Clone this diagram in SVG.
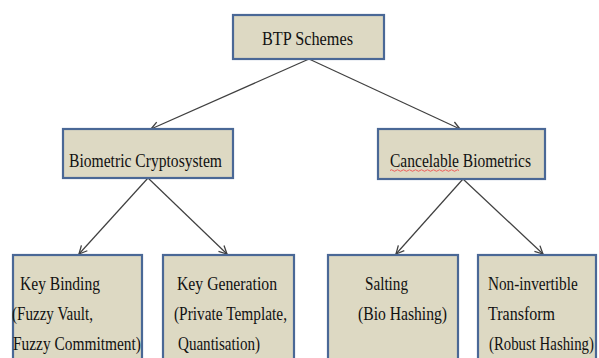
<svg xmlns="http://www.w3.org/2000/svg" width="599" height="358" viewBox="0 0 599 358">
<defs>
<style>
.box{fill:#ddd9c3;stroke:#4a6896;stroke-width:2.2}
.t{font-family:"Liberation Serif","Times New Roman",serif;font-size:19.5px;fill:#111}
.c{stroke:#404040;stroke-width:1.2;fill:none}
</style>
<marker id="ah" viewBox="0 0 10 10" refX="9" refY="5" markerWidth="10" markerHeight="10" markerUnits="userSpaceOnUse" orient="auto">
<path d="M1,1 L9,5 L1,9" fill="none" stroke="#404040" stroke-width="1.3"/>
</marker>
</defs>
<rect width="599" height="358" fill="#fff"/>
<g id="connectors">
<line class="c" x1="309" y1="59" x2="151" y2="129" marker-end="url(#ah)"/>
<line class="c" x1="309" y1="59" x2="460" y2="129" marker-end="url(#ah)"/>
<line class="c" x1="148" y1="178" x2="79" y2="254" marker-end="url(#ah)"/>
<line class="c" x1="148" y1="178" x2="227" y2="254" marker-end="url(#ah)"/>
<line class="c" x1="463" y1="179" x2="396" y2="254" marker-end="url(#ah)"/>
<line class="c" x1="463" y1="179" x2="543" y2="254" marker-end="url(#ah)"/>
</g>
<g id="btp">
<rect class="box" x="233" y="15" width="151" height="44"/>
<text class="t" x="262" y="45" textLength="91" lengthAdjust="spacingAndGlyphs">BTP Schemes</text>
</g>
<g id="biometric-cryptosystem">
<rect class="box" x="63" y="129" width="170" height="49"/>
<text class="t" x="69" y="167" textLength="153" lengthAdjust="spacingAndGlyphs">Biometric Cryptosystem</text>
</g>
<g id="cancelable-biometrics">
<rect class="box" x="378" y="129" width="167" height="50"/>
<text class="t" x="390" y="167" textLength="141" lengthAdjust="spacingAndGlyphs">Cancelable Biometrics</text>
<path d="M390,170.5 q1.5,-1.5 3,0 t3,0 t3,0 t3,0 t3,0 t3,0 t3,0 t3,0 t3,0 t3,0 t3,0 t3,0 t3,0 t3,0 t3,0 t3,0 t3,0 t3,0 t3,0 t3,0 t3,0 t3,0 t3,0" fill="none" stroke="#f05050" stroke-width="0.9"/>
</g>
<g id="key-binding">
<rect class="box" x="13" y="255" width="129" height="110"/>
<text class="t" x="20" y="290" textLength="80" lengthAdjust="spacingAndGlyphs">Key Binding</text>
<text class="t" x="12" y="320" textLength="81" lengthAdjust="spacingAndGlyphs">(Fuzzy Vault,</text>
<text class="t" x="13" y="350" textLength="128" lengthAdjust="spacingAndGlyphs">Fuzzy Commitment)</text>
</g>
<g id="key-generation">
<rect class="box" x="163" y="255" width="131" height="110"/>
<text class="t" x="177" y="290" textLength="100" lengthAdjust="spacingAndGlyphs">Key Generation</text>
<text class="t" x="174" y="320" textLength="113" lengthAdjust="spacingAndGlyphs">(Private Template,</text>
<text class="t" x="178" y="350" textLength="82" lengthAdjust="spacingAndGlyphs">Quantisation)</text>
</g>
<g id="salting">
<rect class="box" x="328" y="255" width="130" height="110"/>
<text class="t" x="365" y="290" textLength="43" lengthAdjust="spacingAndGlyphs">Salting</text>
<text class="t" x="358" y="320" textLength="89" lengthAdjust="spacingAndGlyphs">(Bio Hashing)</text>
</g>
<g id="non-invertible">
<rect class="box" x="478" y="255" width="118" height="110"/>
<text class="t" transform="translate(488,290) scale(0.78,1)" textLength="115" lengthAdjust="spacingAndGlyphs">Non-invertible</text>
<text class="t" x="488" y="320" textLength="67" lengthAdjust="spacingAndGlyphs">Transform</text>
<text class="t" transform="translate(489,350) scale(0.78,1)" textLength="134.5" lengthAdjust="spacingAndGlyphs">(Robust Hashing)</text>
</g>
</svg>
